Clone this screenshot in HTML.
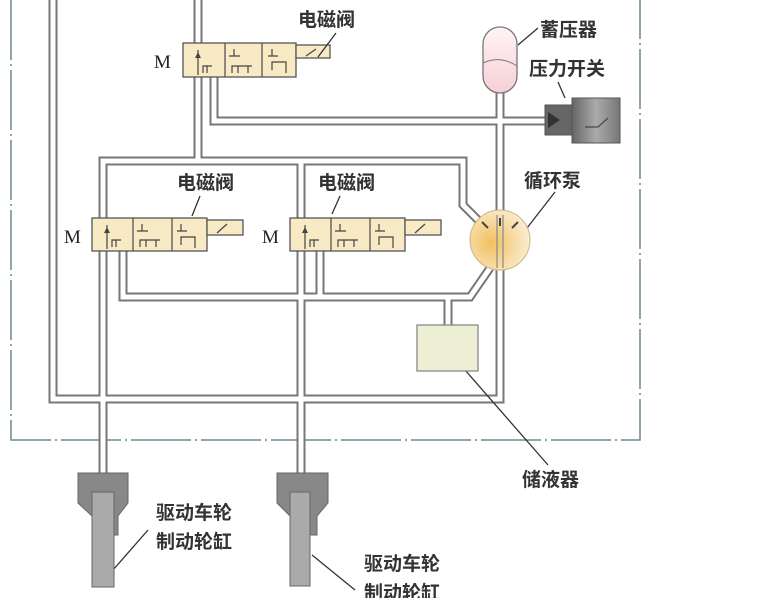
<!DOCTYPE html>
<html><head><meta charset="utf-8"><style>
html,body{margin:0;padding:0;background:#fff;}
svg{display:block;}
.t{font-family:"Liberation Sans","Noto Sans CJK SC",sans-serif;fill:#333;font-weight:bold;}
.m{font-family:"Liberation Serif",serif;fill:#222;}
</style></head><body>
<svg width="780" height="598" viewBox="0 0 780 598" xmlns="http://www.w3.org/2000/svg">
<defs>
<radialGradient id="pg" cx="0.35" cy="0.55" r="0.7"><stop offset="0" stop-color="#f2c060"/><stop offset="1" stop-color="#fbf0d8"/></radialGradient>
<linearGradient id="ag" x1="0" y1="0" x2="0" y2="1"><stop offset="0" stop-color="#fff4f4"/><stop offset="1" stop-color="#f6cfd6"/></linearGradient>
<linearGradient id="cg" x1="0" y1="0" x2="1" y2="0"><stop offset="0" stop-color="#666"/><stop offset="0.5" stop-color="#aaa"/><stop offset="1" stop-color="#777"/></linearGradient>
</defs>
<path d="M11 0 V440 H640 V0" fill="none" stroke="#6a8a90" stroke-width="1.5" stroke-dasharray="60 4 2 4"/>
<g fill="none" stroke="#777" stroke-width="9" stroke-linejoin="miter">
<path d="M198 0 V43"/>
<path d="M198 77 V161"/>
<path d="M214 77 V121 H548"/>
<path d="M53 0 V399 H500 V92"/>
<path d="M103 475 V161 H463 V205 L480 222"/>
<path d="M301 475 V161"/>
<path d="M123 251 V297 H470 L490 268"/>
<path d="M320 251 V297"/>
<path d="M448 297 V325"/>
</g>
<g fill="none" stroke="#fff" stroke-width="5" stroke-linejoin="miter">
<path d="M198 0 V43"/>
<path d="M198 77 V161"/>
<path d="M214 77 V121 H548"/>
<path d="M53 0 V399 H500 V92"/>
<path d="M103 475 V161 H463 V205 L480 222"/>
<path d="M301 475 V161"/>
<path d="M123 251 V297 H470 L490 268"/>
<path d="M320 251 V297"/>
<path d="M448 297 V325"/>
</g>
<g stroke="#555" stroke-width="1.3" fill="#f7eac4">
<rect x="183" y="43" width="113" height="34"/><line x1="225" y1="43" x2="225" y2="77"/><line x1="262" y1="43" x2="262" y2="77"/>
<rect x="296" y="45" width="34" height="13"/>
<rect x="92" y="218" width="115" height="33"/><line x1="133" y1="218" x2="133" y2="251"/><line x1="172" y1="218" x2="172" y2="251"/>
<rect x="207" y="220" width="36" height="15"/>
<rect x="290" y="218" width="115" height="33"/><line x1="331" y1="218" x2="331" y2="251"/><line x1="370" y1="218" x2="370" y2="251"/>
<rect x="405" y="220" width="36" height="15"/>
</g>
<g stroke="#444" stroke-width="1.2" fill="none">
<path d="M198 75 V50 M203 73 V66 H212 M207 66 V73 M234 49 V56 M229 56 H240 M232 73 V66 H252 M238 66 V73 M248 66 V73 M272 49 V56 M268 56 H278 M272 70 V62 H286 V73 M306 56 L316 49"/>
<path d="M107 249 V225 M112 247 V240 H121 M116 240 V247 M142 224 V231 M137 231 H148 M140 247 V240 H160 M146 240 V247 M156 240 V247 M181 224 V231 M177 231 H187 M181 245 V237 H195 V248 M217 233 L227 224"/>
<path d="M305 249 V225 M310 247 V240 H319 M314 240 V247 M340 224 V231 M335 231 H346 M338 247 V240 H358 M344 240 V247 M354 240 V247 M379 224 V231 M375 231 H385 M379 245 V237 H393 V248 M415 233 L425 224"/>
</g>
<path d="M198 52 l-3 6 h6z M107 227 l-3 6 h6z M305 227 l-3 6 h6z" fill="#444"/>
<text class="m" x="154" y="68" font-size="19">M</text>
<text class="m" x="64" y="243" font-size="19">M</text>
<text class="m" x="262" y="243" font-size="19">M</text>
<text class="t" x="298" y="26" font-size="19">电磁阀</text>
<text class="t" x="177" y="189" font-size="19">电磁阀</text>
<text class="t" x="318" y="189" font-size="19">电磁阀</text>
<g stroke="#333" stroke-width="1.3" fill="none">
<path d="M336 33 L318 57 M200 196 L192 216 M340 196 L332 214"/>
<path d="M518 45 L538 28 M558 82 L565 98 M527 228 L555 192 M465 370 L548 465 M113 570 L148 530 M312 555 L355 590"/>
</g>
<rect x="483" y="27" width="34" height="66" rx="17" fill="url(#ag)" stroke="#777" stroke-width="1.3"/>
<path d="M483 63 Q500 55 517 66" stroke="#777" fill="none"/>
<text class="t" x="540" y="36" font-size="19">蓄压器</text>
<text class="t" x="529" y="75" font-size="19">压力开关</text>
<rect x="545" y="105" width="28" height="30" fill="#666" stroke="#555"/>
<path d="M548 112 L560 120 L548 128z" fill="#333"/>
<rect x="572" y="98" width="48" height="45" fill="url(#cg)" stroke="#555"/>
<path d="M585 127 L598 127 L608 118" stroke="#333" fill="none"/>
<circle cx="500" cy="240" r="30" fill="url(#pg)" stroke="#c9b48a"/>
<path d="M497 215 V268 M503 215 V268" stroke="#888" stroke-width="1.2"/>
<path d="M488 228 l-6 -6 M512 228 l6 -6 M500 226 v-8" stroke="#444" stroke-width="2"/>
<text class="t" x="524" y="187" font-size="19">循环泵</text>
<rect x="417" y="325" width="61" height="46" fill="#eef0d6" stroke="#888" stroke-width="1.3"/>
<text class="t" x="522" y="486" font-size="19">储液器</text>
<g fill="#888" stroke="#666">
<path d="M78 473 H128 V503 L118 516 V535 H92 V516 L78 503z"/>
<path d="M277 473 H328 V503 L317 516 V535 H290 V516 L277 503z"/>
</g>
<rect x="92" y="492" width="22" height="95" fill="#aaa" stroke="#666"/>
<rect x="290" y="492" width="20" height="94" fill="#aaa" stroke="#666"/>
<text class="t" x="156" y="519" font-size="19">驱动车轮</text>
<text class="t" x="156" y="548" font-size="19">制动轮缸</text>
<text class="t" x="364" y="570" font-size="19">驱动车轮</text>
<text class="t" x="364" y="599" font-size="19">制动轮缸</text>
</svg>
</body></html>
